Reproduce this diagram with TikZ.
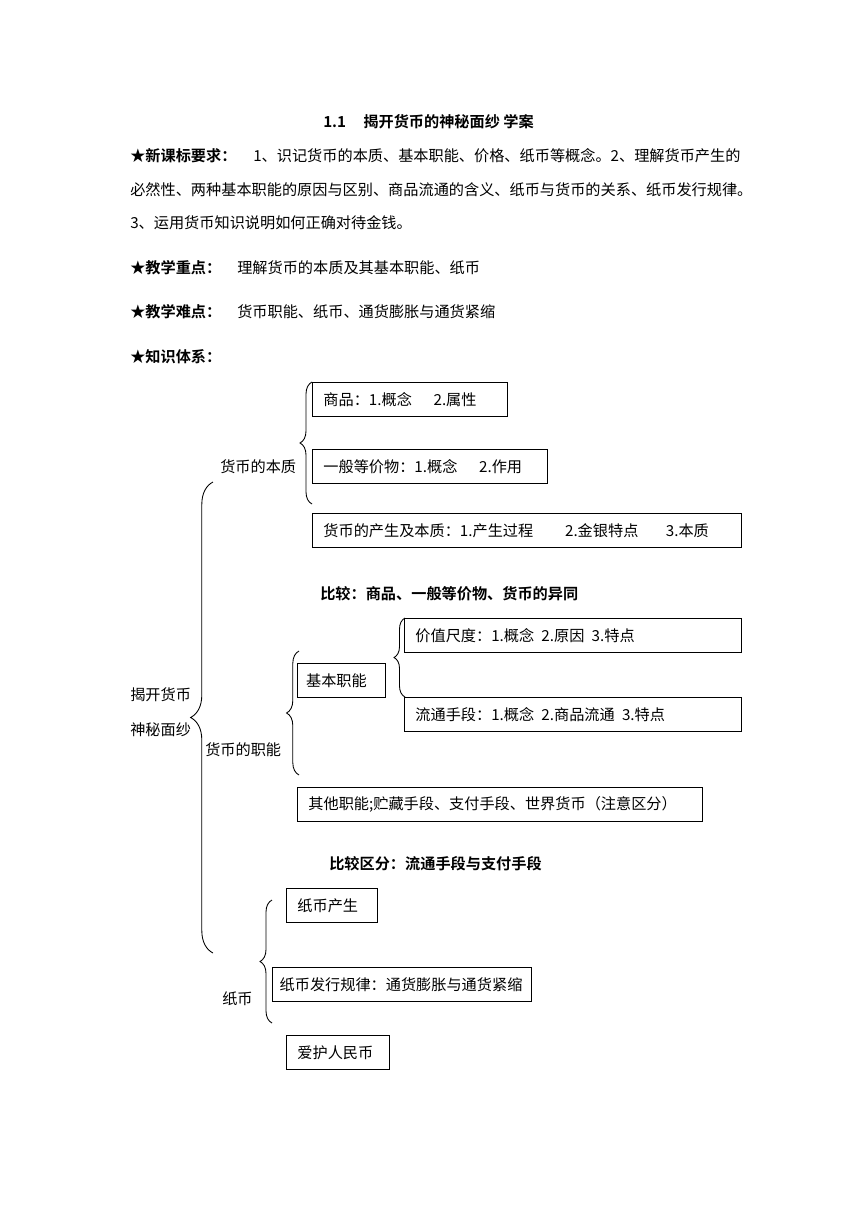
\documentclass[tikz,border=0pt]{standalone}
\usepackage{fontspec}
\setmainfont{Noto Sans CJK SC}[BoldFont={Noto Sans CJK SC Bold}]
\usetikzlibrary{decorations.pathreplacing}

\begin{document}
\begin{tikzpicture}[
  x=0.692pt, y=-0.692pt,
  every node/.style={font=\fontsize{10.5}{12.6}\selectfont, inner sep=0pt},
  txt/.style={anchor=west},
  hd/.style={anchor=west, font=\fontsize{10.5}{12.6}\selectfont\bfseries},
  bx/.style={draw, line width=0.6pt, anchor=north west, minimum height=23.5pt,
    inner xsep=7.6pt, text width=#1, align=left},
  brc/.style={decorate, decoration={brace, amplitude=#1}, line width=0.6pt}]
  \useasboundingbox (0,0) rectangle (860,1216);
  % heading
  \node[hd] (title) at (323,122) {1.1\hspace{12pt}揭开货币的神秘面纱 学案};
  \node[hd] (req) at (130,156) {★新课标要求：};
  \node[txt] (req1) at (253,156) {1、识记货币的本质、基本职能、价格、纸币等概念。2、理解货币产生的};
  \node[txt] (req2) at (130,190) {必然性、两种基本职能的原因与区别、商品流通的含义、纸币与货币的关系、纸币发行规律。};
  \node[txt] (req3) at (130,223) {3、运用货币知识说明如何正确对待金钱。};
  \node[hd] (key) at (130,268) {★教学重点：};
  \node[txt] (keyt) at (237,268) {理解货币的本质及其基本职能、纸币};
  \node[hd] (hard) at (130,312) {★教学难点：};
  \node[txt] (hardt) at (237,312) {货币职能、纸币、通货膨胀与通货紧缩};
  \node[hd] (sys) at (130,357) {★知识体系：};
  % root and branches
  \node[txt, align=left] (root) at (130,712) {揭开货币\\[11.6pt]神秘面纱};
  \node[txt] (benzhi) at (220,467) {货币的本质};
  \node[txt] (zhineng) at (205,750) {货币的职能};
  \node[txt] (zhibi) at (222,999) {纸币};
  % essence of money
  \node[bx=119.7pt] (shangpin) at (312,382) {商品：1.概念\hspace{15pt}2.属性};
  \node[bx=147.4pt] (yiban) at (312,449) {一般等价物：1.概念\hspace{15pt}2.作用};
  \node[bx=281.6pt] (chansheng) at (312,513) {货币的产生及本质：1.产生过程\hspace{22pt}2.金银特点\hspace{19pt}3.本质};
  \node[hd] (cmp1) at (320,594) {比较：商品、一般等价物、货币的异同};
  % functions of money
  \node[bx=218pt] (jiazhi) at (404,618) {价值尺度：1.概念\hspace{5pt}2.原因\hspace{5pt}3.特点};
  \node[bx=49.1pt, inner xsep=6pt] (jiben) at (297,663) {基本职能};
  \node[bx=218pt] (liutong) at (404,697) {流通手段：1.概念\hspace{5pt}2.商品流通\hspace{5pt}3.特点};
  \node[bx=265pt] (qita) at (297,787) {其他职能;贮藏手段、支付手段、世界货币（注意区分）};
  \node[hd] (cmp2) at (329,864) {比较区分：流通手段与支付手段};
  % paper money
  \node[bx=48pt] (chan) at (286,888) {纸币产生};
  \node[bx=169pt, inner xsep=5pt] (faxing) at (272,967) {纸币发行规律：通货膨胀与通货紧缩};
  \node[bx=56pt] (aihu) at (286,1035) {爱护人民币};
  % braces
  \coordinate (rootT) at (213,482);
  \coordinate (rootB) at (213,953);
  \coordinate (bzT) at (312,382);
  \coordinate (bzB) at (312,504);
  \coordinate (jbT) at (405,618);
  \coordinate (jbB) at (405,697);
  \coordinate (znT) at (299,651);
  \coordinate (znB) at (299,775);
  \coordinate (zbT) at (272,900);
  \coordinate (zbB) at (272,1023);
  \draw[brc=15.5pt] (rootB) -- (rootT);
  \draw[brc=8.3pt] (bzB) -- (bzT);
  \draw[brc=7.6pt] (jbB) -- (jbT);
  \draw[brc=8.6pt] (znB) -- (znT);
  \draw[brc=8.3pt] (zbB) -- (zbT);
\end{tikzpicture}
\end{document}
